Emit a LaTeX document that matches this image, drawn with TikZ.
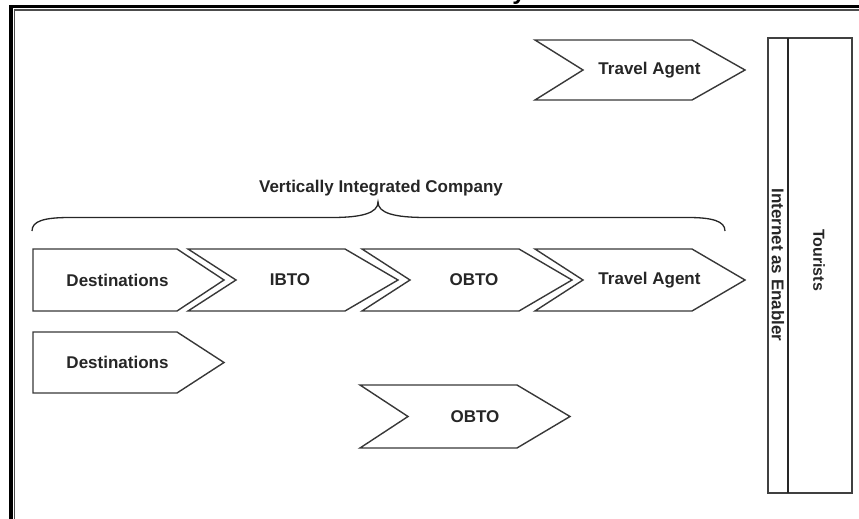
\documentclass[tikz,border=0pt]{standalone}
\usepackage{fontspec}
\setmainfont{Liberation Sans}
\begin{document}
\begin{tikzpicture}[x=1pt,y=-1pt,
  shapeline/.style={draw=black!78,line width=1.4pt,line join=miter},
  lbl/.style={font=\fontsize{17}{17}\bfseries\selectfont,text=black!85,inner sep=0pt},
  framethick/.style={draw=black,line width=3.6pt},
  framethin/.style={draw=black!70,line width=1.5pt}]
\useasboundingbox (0,0) rectangle (859,519);

% outer double frame (continues past the right and bottom edges)
\draw[framethick] (11,530) -- (11,6.5) -- (870,6.5);
\draw[framethin] (14.5,530) -- (14.5,10.2) -- (870,10.2);
% descender of the cut-off heading
\node[font=\fontsize{24}{24}\bfseries\selectfont,anchor=base,inner sep=0pt] (head) at (519,-0.5) {y};

% chevron: x0, top, bottom
\newcommand\chevshape[3]{%
  \draw[shapeline] (#1,#2) -- (#1+157,#2) -- (#1+210,{(#2+#3)/2}) -- (#1+157,#3)
    -- (#1,#3) -- (#1+48,{(#2+#3)/2}) -- cycle;}
% pentagon: x0, top, bottom
\newcommand\pentshape[3]{%
  \draw[shapeline] (#1,#2) -- (#1+144,#2) -- (#1+191,{(#2+#3)/2}) -- (#1+144,#3)
    -- (#1,#3) -- cycle;}

% stand-alone travel agent
\chevshape{535}{40}{100}
\node[lbl] (ta1) at (649.5,70) {Travel Agent};

% vertically integrated chain
\pentshape{33}{249}{311}
\chevshape{188}{249}{311}
\chevshape{362}{249}{311}
\chevshape{535}{249}{311}
\node[lbl] (dest1) at (117.5,280) {Destinations};
\node[lbl] (ibto)  at (290,280) {IBTO};
\node[lbl] (obto1) at (474,280) {OBTO};
\node[lbl] (ta2)   at (649.5,280) {Travel Agent};

% brace over the chain
\draw[draw=black!85,line width=1.3pt]
  (32,231) .. controls (32,221) and (44,217.5) .. (70,217.5) -- (332,217.5)
  .. controls (362,217.5) and (378,213) .. (378,202)
  .. controls (378,213) and (394,217.5) .. (426,217.5) -- (688,217.5)
  .. controls (712,217.5) and (725,221) .. (725,231);
\node[lbl] (vic) at (381,188) {Vertically Integrated Company};

% separate destinations and OBTO
\pentshape{33}{332}{393}
\node[lbl] (dest2) at (117.5,362) {Destinations};
\chevshape{360}{385}{448}
\node[lbl] (obto2) at (475,416.5) {OBTO};

% internet column and tourists
\draw[draw=black!75,line width=1.5pt] (768,38) rectangle (852,493);
\draw[draw=black!85,line width=2.6pt] (788,38) -- (788,493);
\node[lbl,rotate=-90] (net) at (778,265) {Internet as Enabler};
\node[lbl,rotate=-90,font=\fontsize{16}{16}\bfseries\selectfont] (tour) at (819,260) {Tourists};
\end{tikzpicture}
\end{document}
